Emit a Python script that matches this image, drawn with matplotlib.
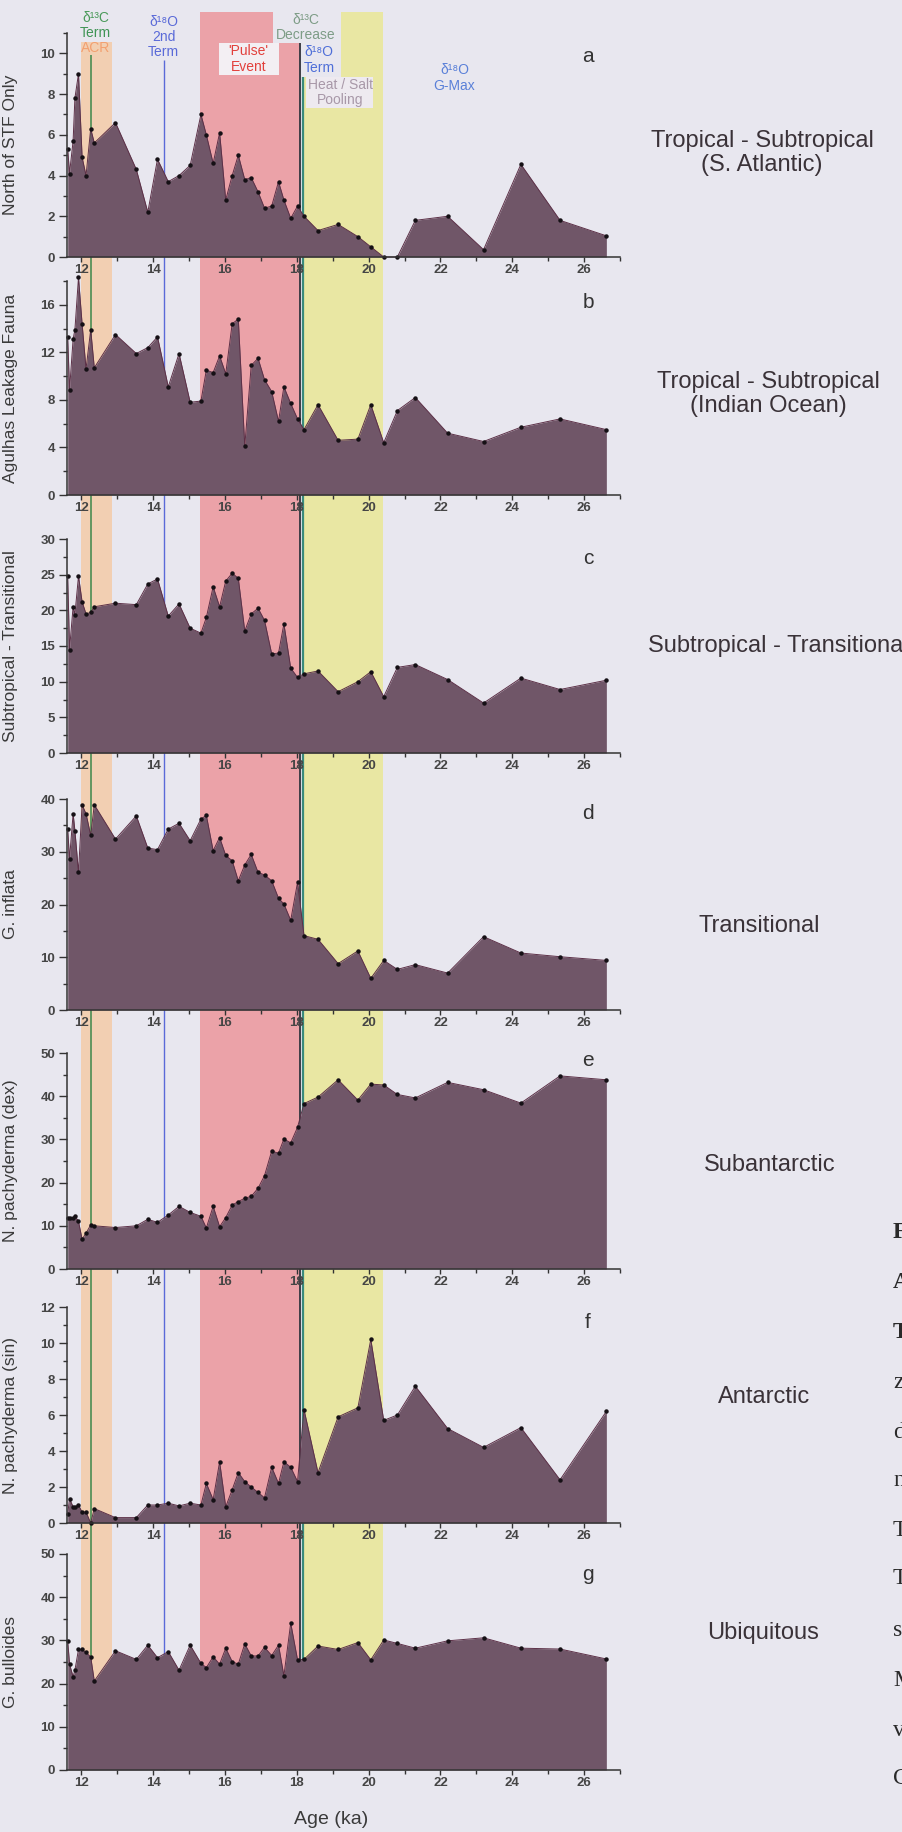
import matplotlib
matplotlib.use("Agg")
import matplotlib.pyplot as plt
from matplotlib.patches import Rectangle
from matplotlib.ticker import MultipleLocator

plt.rcParams['font.family'] = ['Liberation Sans', 'DejaVu Sans']

# sample ages (ka), shared by every assemblage
ages = [11.62, 11.67, 11.77, 11.82, 11.92, 12.02, 12.13, 12.26, 12.36, 12.95,
        13.53, 13.85, 14.12, 14.42, 14.72, 15.03, 15.33, 15.48, 15.67, 15.85,
        16.02, 16.20, 16.37, 16.55, 16.73, 16.92, 17.10, 17.30, 17.49, 17.64,
        17.83, 18.02, 18.20, 18.59, 19.15, 19.70, 20.06, 20.42, 20.80, 21.30,
        22.20, 23.20, 24.24, 25.33, 26.62]

north_stf = [5.3, 4.1, 5.7, 7.8, 9.0, 4.9, 4.0, 6.3, 5.6, 6.6,
             4.3, 2.2, 4.8, 3.7, 4.0, 4.5, 7.0, 6.0, 4.6, 6.1,
             2.8, 4.0, 5.0, 3.8, 3.9, 3.2, 2.4, 2.5, 3.7, 2.8,
             1.9, 2.5, 2.0, 1.3, 1.6, 1.0, 0.5, 0.0, 0.0, 1.8,
             2.0, 0.36, 4.55, 1.8, 1.04]
agulhas = [13.3, 8.8, 13.1, 13.9, 18.3, 14.4, 10.6, 13.9, 10.7, 13.5,
           11.9, 12.4, 13.3, 9.1, 11.9, 7.8, 7.9, 10.5, 10.3, 11.7,
           10.2, 14.4, 14.8, 4.1, 10.9, 11.5, 9.7, 8.7, 6.2, 9.1,
           7.7, 6.4, 5.5, 7.6, 4.6, 4.7, 7.6, 4.4, 7.1, 8.2,
           5.2, 4.5, 5.7, 6.4, 5.5]
subtrop_trans = [24.8, 14.5, 20.5, 19.4, 24.8, 21.2, 19.5, 19.7, 20.5, 21.0,
                 20.8, 23.7, 24.4, 19.2, 20.9, 17.5, 16.8, 19.0, 23.3, 20.5,
                 24.1, 25.2, 24.5, 17.1, 19.5, 20.3, 18.6, 13.9, 14.0, 18.1,
                 11.9, 10.6, 11.1, 11.5, 8.6, 10.0, 11.4, 7.9, 12.0, 12.4,
                 10.3, 7.0, 10.5, 8.9, 10.2]
g_inflata = [34.3, 28.6, 37.2, 34.0, 26.1, 38.9, 37.2, 33.1, 38.9, 32.4,
             36.8, 30.7, 30.4, 34.3, 35.4, 32.1, 36.2, 36.9, 30.2, 32.7,
             29.3, 28.3, 24.5, 27.5, 29.5, 26.1, 25.6, 24.5, 21.2, 20.1,
             17.0, 24.2, 14.1, 13.4, 8.8, 11.2, 6.0, 9.4, 7.7, 8.6,
             7.0, 13.9, 10.8, 10.1, 9.4]
npachy_dex = [11.8, 11.8, 11.9, 12.3, 11.0, 6.9, 8.3, 10.2, 10.0, 9.6,
              10.0, 11.5, 10.8, 12.5, 14.5, 13.1, 12.2, 9.5, 14.5, 9.8,
              11.9, 14.8, 15.6, 16.4, 16.8, 18.7, 21.6, 27.3, 26.8, 30.1,
              29.2, 32.8, 38.3, 39.8, 43.8, 39.1, 42.8, 42.6, 40.4, 39.6,
              43.2, 41.5, 38.4, 44.7, 43.8]
npachy_sin = [0.5, 1.35, 0.9, 0.9, 1.0, 0.6, 0.6, 0.0, 0.8, 0.3,
              0.3, 1.0, 1.0, 1.1, 0.95, 1.1, 1.0, 2.2, 1.3, 3.4,
              0.9, 1.85, 2.8, 2.3, 2.0, 1.7, 1.4, 3.1, 2.2, 3.4,
              3.1, 2.3, 6.3, 2.8, 5.9, 6.4, 10.2, 5.7, 6.0, 7.6,
              5.25, 4.2, 5.3, 2.4, 6.2]
g_bulloides = [29.9, 24.5, 21.6, 23.1, 27.9, 27.9, 27.2, 26.2, 20.6, 27.6,
               25.6, 28.9, 26.0, 27.4, 23.1, 28.9, 24.7, 23.7, 26.2, 24.5,
               28.2, 25.1, 24.5, 29.2, 26.4, 26.4, 28.4, 26.5, 28.9, 21.8,
               34.0, 25.5, 25.6, 28.7, 27.9, 29.5, 25.5, 30.1, 29.3, 28.2,
               29.9, 30.6, 28.2, 28.0, 25.7]

ylabels = ["North of STF Only", "Agulhas Leakage Fauna", "Subtropical - Transitional",
           "G. inflata", "N. pachyderma (dex)", "N. pachyderma (sin)", "G. bulloides"]
series = [north_stf, agulhas, subtrop_trans, g_inflata, npachy_dex, npachy_sin, g_bulloides]
ymax = [11, 18, 30, 40, 50, 12, 50]
ymajor = [2, 4, 5, 10, 10, 2, 10]
yminor = [1, 2, 2.5, 5, 5, 1, 5]
letters = ["a", "b", "c", "d", "e", "f", "g"]
groups = ["Tropical - Subtropical\n(S. Atlantic)", "Tropical - Subtropical\n(Indian Ocean)",
          "Subtropical - Transitional", "Transitional", "Subantarctic", "Antarctic", "Ubiquitous"]

# event intervals (ka) and marker ages
acr_band = (12.0, 12.85)
pulse_band = (15.3, 18.1)
pooling_band = (18.2, 20.4)
d13c_term_age = 12.28
d18o_2nd_term_age = 14.3
d13c_decrease_age = 18.1
d18o_term_age = 18.16

XMIN, XMAX = 11.6, 27.0
W, H = 903, 1832
PAGE = '#e8e7ef'
FILL = '#705668'


def fx(px):
    return px / W


def fy(py):
    return 1 - py / H


fig = plt.figure(figsize=(W / 100, H / 100), dpi=100, facecolor=PAGE)

# shared backdrop in (age, pixel row) coordinates for the shaded intervals
left_px, right_px = 67, 620
bg = fig.add_axes([fx(left_px), 0, (right_px - left_px) / W, 1])
bg.set_xlim(XMIN, XMAX)
bg.set_ylim(H, 0)
bg.axis('off')
bg.patch.set_alpha(0)

bottom_px = 1770


def band(x0, x1, top, color):
    bg.add_patch(Rectangle((x0, top), x1 - x0, bottom_px - top, color=color, lw=0, zorder=1))


band(acr_band[0], acr_band[1], 42, '#f2cfb2')
band(pulse_band[0], pulse_band[1], 12, '#eba2a8')
band(pooling_band[0], pooling_band[1], 12, '#e9e7a3')

# label backgrounds that sit over the shading
bg.add_patch(Rectangle((17.34, 8), 19.23 - 17.34, 35, color=PAGE, lw=0, zorder=2))
bg.add_patch(Rectangle((18.15, 43), 19.23 - 18.15, 34, color=PAGE, lw=0, zorder=2))
bg.add_patch(Rectangle((15.83, 43), 17.5 - 15.83, 32, color='#f3eff3', lw=0, zorder=2))
bg.add_patch(Rectangle((18.26, 77), 20.13 - 18.26, 31, color='#eeeaf0', lw=0, zorder=2))

bg.vlines(d13c_term_age, 55, bottom_px, color='#4a8c52', lw=1.2, zorder=3)
bg.vlines(d18o_2nd_term_age, 60, bottom_px, color='#5a6ad8', lw=1.0, zorder=3)
bg.vlines(d13c_decrease_age, 43, bottom_px, color='#3e3e46', lw=1.4, zorder=3)
bg.vlines(d18o_term_age, 77, bottom_px, color='#3a8a7c', lw=1.6, zorder=3)

ann = dict(ha='center', va='center', fontsize=10, zorder=4, linespacing=1.1)
bg.text(12.39, 18, "δ¹³C", color='#4a9a5a', **ann)
bg.text(12.39, 33, "Term", color='#3f9455', **ann)
bg.text(12.39, 48, "ACR", color='#f2a070', **ann)
bg.text(14.29, 22, "δ¹⁸O", color='#5a6ad8', **ann)
bg.text(14.29, 37, "2nd", color='#5a6ad8', **ann)
bg.text(14.29, 52, "Term", color='#5a6ad8', **ann)
bg.text(16.66, 51, "'Pulse'", color='#e2403c', **ann)
bg.text(16.66, 67, "Event", color='#e2403c', **ann)
bg.text(18.26, 20, "δ¹³C", color='#7d9c86', **ann)
bg.text(18.26, 35, "Decrease", color='#7d9c86', **ann)
bg.text(18.62, 52, "δ¹⁸O", color='#4f6fd8', **ann)
bg.text(18.62, 68, "Term", color='#4f6fd8', **ann)
bg.text(19.21, 85, "Heat / Salt", color='#a898a8', **ann)
bg.text(19.21, 100, "Pooling", color='#a898a8', **ann)
bg.text(22.39, 70, "δ¹⁸O", color='#5a80d8', **ann)
bg.text(22.39, 86, "G-Max", color='#5a80d8', **ann)

panel_rows = [(33, 257), (281, 495), (539, 753), (799, 1010),
              (1053, 1269), (1307, 1523), (1554, 1770)]
letter_rows = [56, 302, 558, 814, 1060, 1323, 1575]
group_pos = [(762, 153, 'center'), (768, 394, 'center'), (648, 646, 'left'),
             (759, 926, 'center'), (770, 1165, 'center'), (764, 1397, 'center'),
             (763, 1633, 'center')]

for i, (top, bot) in enumerate(panel_rows):
    ax = fig.add_axes([fx(left_px), fy(bot), (right_px - left_px) / W, (bot - top) / H])
    ax.patch.set_alpha(0)
    ax.fill_between(ages, series[i], 0, color=FILL, lw=0, zorder=2, clip_on=False)
    ax.plot(ages, series[i], color='#5c3047', lw=0.7, marker='o', ms=2.2,
            mfc='#151015', mec='#151015', zorder=3, clip_on=False)
    ax.set_xlim(XMIN, XMAX)
    ax.set_ylim(0, ymax[i])
    ax.xaxis.set_major_locator(MultipleLocator(2))
    ax.xaxis.set_minor_locator(MultipleLocator(1))
    ax.yaxis.set_major_locator(MultipleLocator(ymajor[i]))
    ax.yaxis.set_minor_locator(MultipleLocator(yminor[i]))
    for s in ('top', 'right'):
        ax.spines[s].set_visible(False)
    for s in ('left', 'bottom'):
        ax.spines[s].set_color('#333333')
        ax.spines[s].set_linewidth(1.1)
        ax.spines[s].set_zorder(4)
    ax.tick_params(axis='x', which='major', direction='out', length=3.5, width=1,
                   pad=1.5, labelsize=9.5, labelcolor='#454545', color='#333333')
    ax.tick_params(axis='x', which='minor', direction='out', length=3, width=1, color='#333333')
    ax.tick_params(axis='y', which='major', direction='out', length=5.5, width=1,
                   pad=3, labelsize=9.5, labelcolor='#454545', color='#333333')
    ax.tick_params(axis='y', which='minor', direction='out', length=3, width=1, color='#333333')
    for lab in ax.get_xticklabels() + ax.get_yticklabels():
        lab.set_fontweight('bold')
    ax.set_ylabel(ylabels[i], fontsize=12.5, color='#3a3a3a')
    ax.yaxis.set_label_coords(-0.0886, 0.5)

    fig.text(fx(588), fy(letter_rows[i]), letters[i], fontsize=15, color='#333333',
             ha='center', va='center')
    gx, gy, gha = group_pos[i]
    fig.text(fx(gx), fy(gy), groups[i], fontsize=17, color='#3a3238',
             ha=gha, va='center', multialignment='center', linespacing=1.1)

fig.text(fx(331), fy(1820), "Age (ka)", fontsize=14, color='#3a3a3a', ha='center', va='center')

# edge of the facing caption column
caption_letters = ["F", "A", "T", "z", "d", "n", "T", "T", "s", "M", "v", "C"]
caption_rows = [1233, 1283, 1332, 1382, 1432, 1481, 1531, 1579, 1631, 1681, 1730, 1779]
for k, (ch, row) in enumerate(zip(caption_letters, caption_rows)):
    fig.text(fx(893), fy(row), ch, fontsize=17, family='Liberation Serif',
             fontweight='bold' if k < 3 else 'normal', color='#2a2a2a',
             ha='left', va='center')

fig.savefig("out.png", dpi=100, facecolor=PAGE)
